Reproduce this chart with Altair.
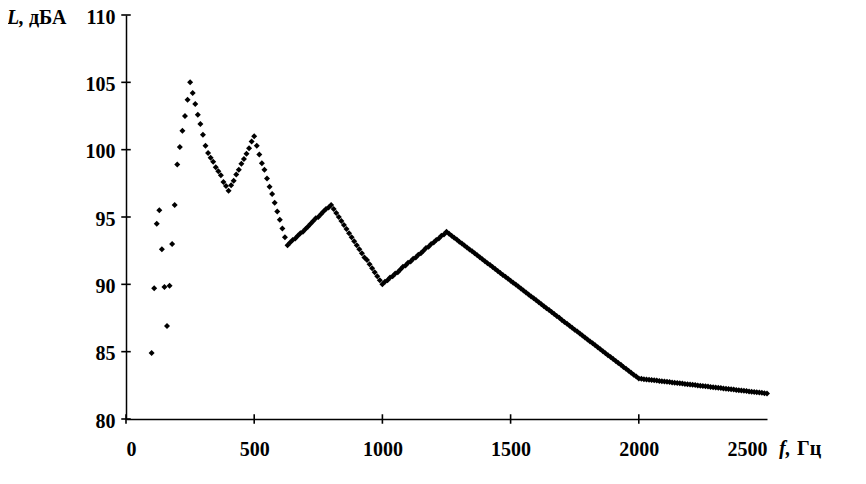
import altair as alt
import pandas as pd

# ---- data ----
freq_hz = [
    100, 110, 120, 130, 140, 150, 160, 170, 180, 190,
    200, 210, 220, 230, 240, 250, 260, 270, 280, 290,
    300, 310, 320, 330, 340, 350, 360, 370, 380, 390,
    400, 410, 420, 430, 440, 450, 460, 470, 480, 490,
    500, 510, 520, 530, 540, 550, 560, 570, 580, 590,
    600, 610, 620, 630, 640, 650, 660, 670, 680, 690,
    700, 710, 720, 730, 740, 750, 760, 770, 780, 790,
    800, 810, 820, 830, 840, 850, 860, 870, 880, 890,
    900, 910, 920, 930, 940, 950, 960, 970, 980, 990,
    1000, 1010, 1020, 1030, 1040, 1050, 1060, 1070, 1080, 1090,
    1100, 1110, 1120, 1130, 1140, 1150, 1160, 1170, 1180, 1190,
    1200, 1210, 1220, 1230, 1240, 1250, 1260, 1270, 1280, 1290,
    1300, 1310, 1320, 1330, 1340, 1350, 1360, 1370, 1380, 1390,
    1400, 1410, 1420, 1430, 1440, 1450, 1460, 1470, 1480, 1490,
    1500, 1510, 1520, 1530, 1540, 1550, 1560, 1570, 1580, 1590,
    1600, 1610, 1620, 1630, 1640, 1650, 1660, 1670, 1680, 1690,
    1700, 1710, 1720, 1730, 1740, 1750, 1760, 1770, 1780, 1790,
    1800, 1810, 1820, 1830, 1840, 1850, 1860, 1870, 1880, 1890,
    1900, 1910, 1920, 1930, 1940, 1950, 1960, 1970, 1980, 1990,
    2000, 2010, 2020, 2030, 2040, 2050, 2060, 2070, 2080, 2090,
    2100, 2110, 2120, 2130, 2140, 2150, 2160, 2170, 2180, 2190,
    2200, 2210, 2220, 2230, 2240, 2250, 2260, 2270, 2280, 2290,
    2300, 2310, 2320, 2330, 2340, 2350, 2360, 2370, 2380, 2390,
    2400, 2410, 2420, 2430, 2440, 2450, 2460, 2470, 2480, 2490,
    2500,
]

level_100_620 = [
    84.9, 89.7, 94.5, 95.5, 92.6, 89.8, 86.9, 89.9, 93.0, 95.9,
    98.9, 100.2, 101.4, 102.5, 103.7, 105.0, 104.2, 103.4, 102.6, 101.9,
    101.1, 100.3, 99.75, 99.4, 99.1, 98.7, 98.4, 98.1, 97.6, 97.3,
    96.95, 97.35, 97.7, 98.15, 98.5, 98.95, 99.3, 99.7, 100.1, 100.6,
    101.0, 100.3, 99.65, 99.0, 98.5, 97.85, 97.25, 96.7, 96.05, 95.4,
    94.8, 94.15, 93.5,
]
level_630_800 = [
    92.9, 93.1, 93.3, 93.4, 93.6, 93.8, 93.9, 94.1, 94.3, 94.5,
    94.7, 94.9, 95.0, 95.2, 95.4, 95.6, 95.7, 95.9,
]
level_810_1000 = [
    95.6, 95.3, 95.0, 94.7, 94.4, 94.1, 93.8, 93.5, 93.2, 92.9,
    92.6, 92.3, 92.0, 91.8, 91.5, 91.2, 90.9, 90.6, 90.3, 90.0,
]
level_1010_1250 = [
    90.2, 90.3, 90.5, 90.6, 90.8, 90.9, 91.1, 91.3, 91.4, 91.6,
    91.7, 91.9, 92.0, 92.2, 92.3, 92.5, 92.7, 92.8, 93.0, 93.1,
    93.3, 93.4, 93.6, 93.7, 93.9,
]
level_1260_2000 = [
    93.75, 93.61, 93.46, 93.32, 93.17, 93.03, 92.88, 92.74, 92.59, 92.45,
    92.30, 92.16, 92.01, 91.87, 91.72, 91.57, 91.43, 91.28, 91.14, 90.99,
    90.85, 90.70, 90.56, 90.41, 90.27, 90.12, 89.98, 89.83, 89.69, 89.54,
    89.39, 89.25, 89.10, 88.96, 88.81, 88.67, 88.52, 88.38, 88.23, 88.09,
    87.94, 87.80, 87.65, 87.51, 87.36, 87.21, 87.07, 86.92, 86.78, 86.63,
    86.49, 86.34, 86.20, 86.05, 85.91, 85.76, 85.62, 85.47, 85.33, 85.18,
    85.03, 84.89, 84.74, 84.60, 84.45, 84.31, 84.16, 84.02, 83.87, 83.73,
    83.58, 83.44, 83.29, 83.15, 83.00,
]
level_2010_2500 = [
    82.98, 82.96, 82.93, 82.91, 82.89, 82.87, 82.85, 82.82, 82.80, 82.78,
    82.76, 82.74, 82.71, 82.69, 82.67, 82.65, 82.63, 82.60, 82.58, 82.56,
    82.54, 82.52, 82.49, 82.47, 82.45, 82.43, 82.41, 82.38, 82.36, 82.34,
    82.32, 82.30, 82.27, 82.25, 82.23, 82.21, 82.19, 82.16, 82.14, 82.12,
    82.10, 82.08, 82.05, 82.03, 82.01, 81.99, 81.97, 81.94, 81.92, 81.90,
]

x_tick_values = [0, 500, 1000, 1500, 2000, 2500]
x_tick_marks = [0, 500, 1000, 1500, 2000]
y_tick_values = [80, 85, 90, 95, 100, 105, 110]

level_dba = (level_100_620 + level_630_800 + level_810_1000 +
             level_1010_1250 + level_1260_2000 + level_2010_2500)

df = pd.DataFrame({"f": freq_hz[:len(level_dba)], "L": level_dba[:len(freq_hz)]})

# tick tables: each x tick sits on the lowest y value, each y tick on x = 0
x_tick_df = pd.DataFrame({"f": x_tick_marks,
                          "L": [y_tick_values[0]] * len(x_tick_marks)})
y_tick_df = pd.DataFrame({"f": [x_tick_values[0]] * len(y_tick_values),
                          "L": y_tick_values})

FONT = "Liberation Serif"
xs = alt.Scale(domain=[0, 2500], nice=False, zero=False)
ys = alt.Scale(domain=[80, 110], nice=False, zero=False)

x_axis = alt.Axis(values=x_tick_values, title=None, ticks=False, grid=False,
                  labelFont=FONT, labelFontSize=20, labelFontWeight="bold",
                  labelColor="black", labelPadding=20, labelFlush=True,
                  domainColor="black", domainWidth=1.5, format="d")
y_axis = alt.Axis(values=y_tick_values, title=None, ticks=False, grid=False,
                  labelFont=FONT, labelFontSize=20, labelFontWeight="bold",
                  labelColor="black", labelPadding=11, labelFlush=False,
                  labelOffset=2,
                  domainColor="black", domainWidth=1.5, format="d")

points = alt.Chart(df).mark_point(
    shape="diamond", filled=True, color="black", size=36, opacity=1
).encode(
    x=alt.X("f:Q", scale=xs, axis=x_axis),
    y=alt.Y("L:Q", scale=ys, axis=y_axis),
)

# tick marks that cross the axis lines (Excel style), drawn as line symbols
x_ticks = alt.Chart(x_tick_df).mark_point(
    shape="M0,-1L0,1", size=90, filled=False, color="black",
    strokeWidth=1.6, opacity=1
).encode(
    x=alt.X("f:Q", scale=xs, axis=x_axis),
    y=alt.Y("L:Q", scale=ys, axis=y_axis),
)

y_ticks = alt.Chart(y_tick_df).mark_point(
    shape="M-1,0L1,0", size=90, filled=False, color="black",
    strokeWidth=1.6, opacity=1
).encode(
    x=alt.X("f:Q", scale=xs, axis=x_axis),
    y=alt.Y("L:Q", scale=ys, axis=y_axis),
)

one = pd.DataFrame({"a": [0]})


def label(txt, px, py, italic=False):
    return alt.Chart(one).mark_text(
        text=txt, font=FONT, fontSize=20, fontWeight="bold",
        fontStyle="italic" if italic else "normal",
        align="left", baseline="alphabetic", color="black"
    ).encode(x=alt.value(px), y=alt.value(py))


labels = [
    label("L,", -119, 9, italic=True),
    label("дБА", -97, 9),
    label("f,", 653, 440, italic=True),
    label("Гц", 671, 440),
]

chart = alt.layer(points, x_ticks, y_ticks, *labels).properties(
    width=641, height=404,
    padding={"left": 118, "top": 7, "right": 80, "bottom": 40},
    autosize=alt.AutoSizeParams(type="none"),
    background="white",
).configure_view(stroke=None)

chart.save("out.html", embed_options={"renderer": "svg", "actions": False})
